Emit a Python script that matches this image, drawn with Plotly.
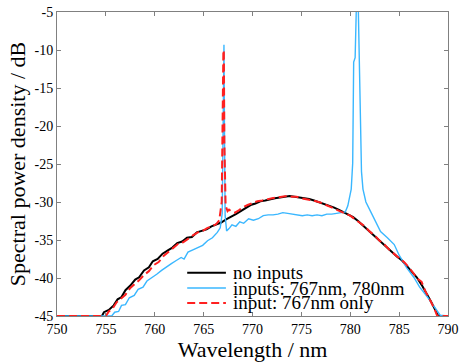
import plotly.graph_objects as go

# no inputs (black)
wl_none = [750.0, 754.6, 754.8, 755.3, 755.8, 756.2, 756.6, 757.0, 757.5, 758.0,
           758.4, 758.9, 759.4, 759.8, 760.3, 760.8, 761.3, 761.8, 762.3, 762.8,
           763.3, 763.8, 764.3, 764.8, 765.3, 765.8, 766.3, 766.8, 767.3, 767.8,
           768.3, 768.8, 769.3, 769.8, 770.3, 770.8, 771.3, 771.8, 772.3, 772.8,
           773.3, 773.8, 774.3, 774.8, 775.3, 775.8, 776.3, 776.8, 777.3, 777.8,
           778.3, 778.8, 779.3, 779.8, 780.3, 780.8, 781.3, 781.8, 782.3, 782.8,
           783.3, 783.8, 784.3, 784.8, 785.3, 785.8, 786.3, 786.8, 787.3, 787.8,
           788.3, 788.7, 789.0, 790.0]
psd_none = [-45.0, -45.0, -44.5, -44.2, -43.6, -42.8, -42.5, -41.6, -41.0, -40.2,
            -39.9, -39.0, -38.6, -37.8, -37.5, -36.8, -36.4, -36.0, -35.4, -35.2,
            -34.7, -34.6, -34.0, -33.8, -33.6, -33.2, -33.0, -32.7, -32.3, -32.0,
            -31.6, -31.2, -30.8, -30.4, -30.2, -29.9, -29.8, -29.6, -29.5, -29.4,
            -29.3, -29.2, -29.3, -29.4, -29.5, -29.6, -29.8, -30.0, -30.2, -30.5,
            -30.7, -31.0, -31.3, -31.6, -32.0, -32.5, -33.1, -33.6, -34.2, -34.8,
            -35.4, -36.0, -36.6, -37.2, -37.7, -38.4, -39.1, -39.9, -40.9, -42.0,
            -43.2, -44.2, -45.0, -45.0]

# inputs: 767nm and 780nm (blue)
wl_both = [750.0, 755.6, 755.9, 756.3, 756.6, 757.0, 757.4, 757.9, 758.3, 758.8,
           759.2, 759.7, 760.2, 760.7, 761.2, 761.7, 762.2, 762.7, 763.0, 763.4,
           763.9, 764.4, 764.9, 765.4, 765.9, 766.4, 766.7, 766.9, 766.98, 767.03,
           767.08, 767.13, 767.2, 767.35, 767.6, 767.9, 768.3, 768.7, 769.1, 769.6,
           770.1, 770.6, 771.1, 771.6, 772.1, 772.6, 773.1, 773.6, 774.1, 774.6,
           775.1, 775.6, 776.1, 776.6, 777.1, 777.6, 778.1, 778.6, 779.1, 779.5,
           779.75, 780.1, 780.25, 780.35, 780.5, 780.65, 780.8, 780.95, 781.05,
           781.15, 781.3, 781.6, 782.1, 782.6, 783.1, 783.8, 784.5, 785.0, 785.8,
           786.5, 787.1, 787.9, 788.5, 789.2, 790.0]
psd_both = [-45.0, -45.0, -44.5, -44.4, -43.6, -43.5, -42.6, -42.3, -41.5, -41.2,
            -40.4, -40.0, -39.5, -39.0, -38.5, -38.1, -37.7, -37.3, -37.5, -36.6,
            -36.3, -36.0, -35.7, -35.1, -34.7, -34.0, -33.4, -31.5, -20.0, -9.3,
            -9.3, -20.0, -31.8, -33.8, -33.5, -33.0, -33.2, -32.6, -32.8, -32.2,
            -32.4, -32.2, -31.8, -31.7, -31.7, -31.6, -31.4, -31.5, -31.6, -31.7,
            -31.8, -31.7, -31.8, -31.7, -31.8, -31.6, -31.6, -31.5, -31.4, -31.3,
            -30.5, -28.3, -24.9, -11.6, -11.0, -3.0, -3.0, -15.0,
            -22.3, -26.0, -28.3, -30.0, -31.3, -32.5, -33.9, -34.7, -35.6, -37.0,
            -38.7, -39.9, -41.2, -42.5, -43.6, -44.9, -45.0]

# input: 767nm only (red dashed)
wl_767 = [750.0, 755.0, 755.3, 755.7, 756.1, 756.6, 757.0, 757.5, 758.0, 758.4,
          758.9, 759.4, 759.9, 760.4, 760.9, 761.4, 761.9, 762.4, 762.9, 763.4,
          763.9, 764.4, 764.9, 765.4, 765.9, 766.3, 766.6, 766.85, 766.97, 767.02,
          767.07, 767.12, 767.25, 767.45, 767.6, 767.9, 768.2, 768.6, 769.0, 769.5,
          770.0, 770.5, 771.0, 771.5, 772.0, 772.5, 773.0, 773.5, 774.0, 774.5,
          775.0, 775.5, 776.0, 776.5, 777.0, 777.5, 778.0, 778.5, 779.0, 779.5,
          780.0, 780.5, 781.0, 781.5, 782.0, 782.5, 783.0, 783.5, 784.0, 784.5,
          785.0, 785.5, 786.0, 786.4, 786.9, 787.3, 787.7, 788.2, 788.6, 788.9,
          790.0]
psd_767 = [-45.0, -45.0, -44.4, -44.0, -43.2, -42.6, -42.2, -41.3, -40.8, -40.3,
           -39.6, -39.1, -38.3, -37.9, -37.1, -36.6, -36.1, -35.5, -35.3, -34.8,
           -34.4, -34.0, -33.8, -33.4, -33.2, -32.9, -32.4, -30.0, -20.0, -10.0,
           -10.3, -22.0, -30.5, -31.2, -31.0, -31.3, -31.4, -31.1, -30.7, -30.4,
           -30.1, -29.9, -29.8, -29.6, -29.5, -29.4, -29.3, -29.2, -29.3, -29.3,
           -29.5, -29.6, -29.7, -29.9, -30.1, -30.4, -30.6, -30.9, -31.2, -31.5,
           -31.8, -32.3, -32.8, -33.2, -33.9, -34.4, -35.1, -35.6, -36.3, -36.8,
           -37.4, -37.9, -38.6, -39.3, -40.1, -40.5, -41.8, -43.0, -44.0, -45.0,
           -45.0]

# y tick labels use a plain hyphen, as in the original
y_ticks = [-45, -40, -35, -30, -25, -20, -15, -10, -5]
y_ticklabels = ["-45", "-40", "-35", "-30", "-25", "-20", "-15", "-10", "-5"]

labels = ["no inputs", "inputs: 767nm, 780nm", "input: 767nm only"]
colors = ["#000000", "#3ab7ff", "#ff2020"]
widths = [2, 1.4, 2]
dashes = ["solid", "solid", "8px,4px"]
series = [(wl_none, psd_none), (wl_both, psd_both), (wl_767, psd_767)]

FONT = "Liberation Serif"

fig = go.Figure()
for (x, y), name, c, w, d in zip(series, labels, colors, widths, dashes):
    fig.add_trace(go.Scatter(x=x, y=y, mode="lines", name=name,
                             line=dict(color=c, width=w, dash=d),
                             showlegend=False))

# hand-built legend (tight row spacing like the original)
leg_y = [0.142, 0.092, 0.043]
for yy, name, c, w, d in zip(leg_y, labels, colors, widths, dashes):
    fig.add_shape(type="line", xref="paper", yref="paper",
                  x0=0.333, x1=0.432, y0=yy, y1=yy,
                  line=dict(color=c, width=w, dash=d))
    fig.add_annotation(text=name, xref="paper", yref="paper",
                       x=0.444, y=yy, xanchor="left", yanchor="middle",
                       showarrow=False,
                       font=dict(family=FONT, size=19, color="black"))

axis_common = dict(showline=True, linecolor="#808080", linewidth=1,
                   mirror="ticks", ticks="inside", ticklen=4,
                   tickcolor="#808080", showgrid=False, zeroline=False,
                   ticklabeloverflow="allow",
                   tickfont=dict(family=FONT, size=14, color="black"))

fig.update_layout(
    width=464, height=362,
    margin=dict(l=57, r=13, t=5, b=46),
    paper_bgcolor="white", plot_bgcolor="white",
    font=dict(family=FONT, color="black"),
    xaxis=dict(range=[750, 790], dtick=5,
               title=dict(text="Wavelength / nm",
                          font=dict(family=FONT, size=22), standoff=4),
               **axis_common),
    yaxis=dict(range=[-45, -5], tickvals=y_ticks, ticktext=y_ticklabels,
               title=dict(text="Spectral power density / dB",
                          font=dict(family=FONT, size=22), standoff=2),
               **axis_common),
)

fig.write_html("out.html", config={"displayModeBar": False},
               post_script="document.body.style.margin='0';")
